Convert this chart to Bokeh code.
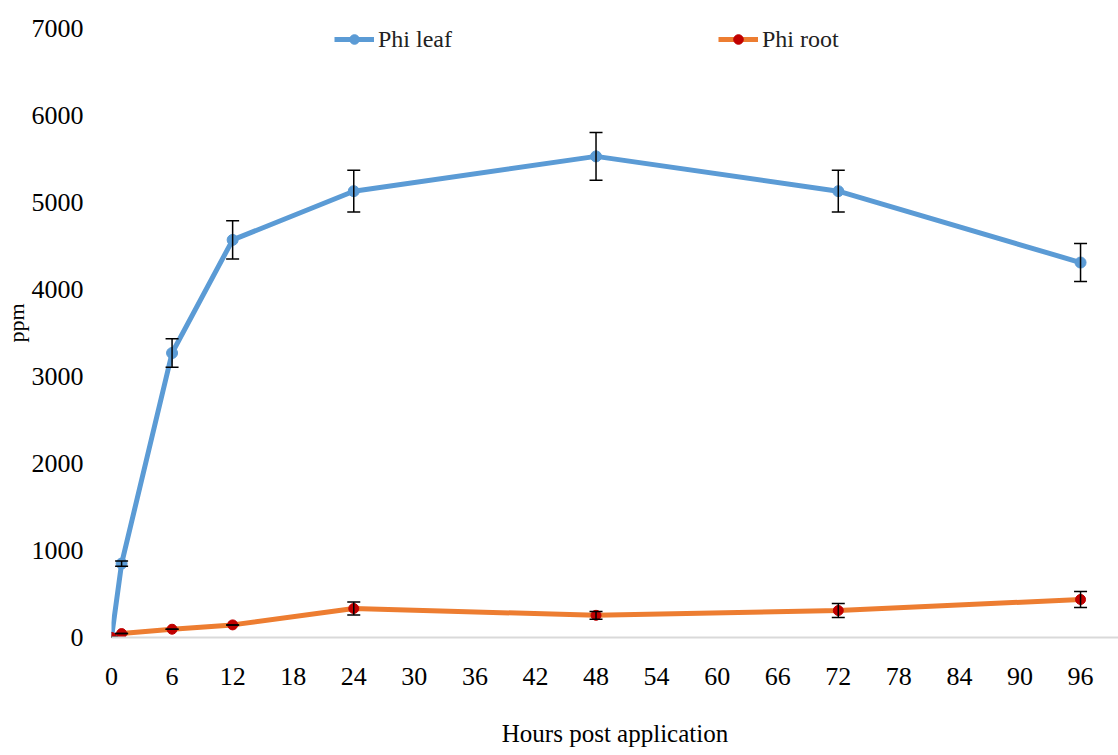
from bokeh.plotting import figure
from bokeh.models import ColumnDataSource, Whisker, TeeHead, Range1d, FixedTicker, Legend, LegendItem
from bokeh.embed import file_html
from bokeh.resources import INLINE

hours = [0, 1, 6, 12, 24, 48, 72, 96]
leaf = [0, 850, 3270, 4570, 5130, 5530, 5130, 4310]
leaf_err = [0, 30, 165, 220, 240, 275, 240, 218]
root = [0, 45, 95, 145, 333, 255, 310, 437]
root_err = [0, 0, 0, 0, 75, 45, 80, 92]
x_ticks = [0, 6, 12, 18, 24, 30, 36, 42, 48, 54, 60, 66, 72, 78, 84, 90, 96]
y_ticks = [0, 1000, 2000, 3000, 4000, 5000, 6000, 7000]

FONT = "Liberation Serif"
BLUE = "#5B9BD5"
ORANGE = "#ED7D31"
DARKRED = "#C00000"

p = figure(width=1118, height=755, output_backend="svg", toolbar_location=None,
           x_range=Range1d(0, 99.76), y_range=Range1d(0, 7230),
           min_border_left=110, min_border_right=0, min_border_top=8, min_border_bottom=118)
p.outline_line_color = None
p.grid.grid_line_color = None
p.background_fill_color = "white"

leaf_src = ColumnDataSource(dict(x=hours, y=leaf,
                                 lo=[v - e for v, e in zip(leaf, leaf_err)],
                                 hi=[v + e for v, e in zip(leaf, leaf_err)]))
root_src = ColumnDataSource(dict(x=hours, y=root,
                                 lo=[v - e for v, e in zip(root, root_err)],
                                 hi=[v + e for v, e in zip(root, root_err)]))

l1 = p.line("x", "y", source=leaf_src, line_color=BLUE, line_width=5)
l2 = p.line("x", "y", source=root_src, line_color=ORANGE, line_width=5)

for src in (leaf_src, root_src):
    w = Whisker(source=src, base="x", upper="hi", lower="lo", line_color="black", line_width=1.5,
                upper_head=TeeHead(size=13, line_color="black", line_width=1.5),
                lower_head=TeeHead(size=13, line_color="black", line_width=1.5))
    w.level = "glyph"
    p.add_layout(w)

m1 = p.scatter("x", "y", source=leaf_src, size=11, fill_color=BLUE, line_color=BLUE)
m2 = p.scatter("x", "y", source=root_src, size=10, fill_color=DARKRED, line_color=DARKRED)

legend = Legend(items=[LegendItem(label="Phi leaf", renderers=[l1, m1]),
                       LegendItem(label="Phi root", renderers=[l2, m2])],
                orientation="horizontal", location=(223, 584),
                border_line_color=None, background_fill_alpha=0,
                padding=8, margin=0, spacing=266, glyph_width=40, glyph_height=24,
                label_height=28, label_standoff=4, label_text_font=FONT,
                label_text_font_size="24px",
                label_text_color="#222222")
p.add_layout(legend)

p.xaxis.ticker = FixedTicker(ticks=x_ticks)
p.yaxis.ticker = FixedTicker(ticks=y_ticks)

for ax in (p.xaxis[0], p.yaxis[0]):
    ax.major_tick_line_color = None
    ax.minor_tick_line_color = None
    ax.major_label_text_font = FONT
    ax.major_label_text_font_size = "26px"
    ax.major_label_text_color = "black"
    ax.axis_label_text_font = FONT
    ax.axis_label_text_font_style = "normal"
    ax.axis_label_text_color = "black"

p.xaxis.axis_line_color = "#D9D9D9"
p.xaxis.axis_line_width = 2
p.xaxis.major_label_standoff = 24
p.xaxis.axis_label = "Hours post application"
p.xaxis.axis_label_text_font_size = "25px"
p.xaxis.axis_label_standoff = 32

p.yaxis.axis_line_color = None
p.yaxis.major_label_standoff = 22
p.yaxis.axis_label = "ppm"
p.yaxis.axis_label_text_font_size = "22px"
p.yaxis.axis_label_standoff = 0

open("out.html", "w").write(file_html(p, INLINE))
